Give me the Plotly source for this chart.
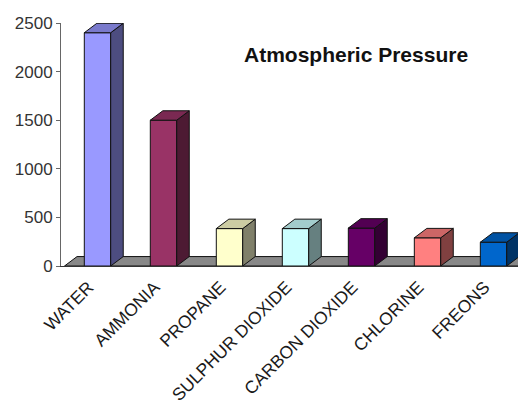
import plotly.graph_objects as go

categories = ["WATER", "AMMONIA", "PROPANE", "SULPHUR DIOXIDE",
              "CARBON DIOXIDE", "CHLORINE", "FREONS"]
pressure = [2400, 1500, 385, 385, 390, 290, 245]

front_colors = ["#9999FF", "#993366", "#FFFFCC", "#CCFFFF", "#660066", "#FF8080", "#0066CC"]
side_colors = ["#4D4D80", "#4D1A33", "#80806A", "#668080", "#330033", "#804040", "#003366"]
top_colors = ["#7A7ACC", "#7A2952", "#CCCCA3", "#A3CCCC", "#520052", "#CC6666", "#0052A3"]

W = 0.4      # bar width in category units
DX = 0.19    # depth offset (category units)
DY = 97      # depth offset (value units)
OUTLINE = "#111111"

fig = go.Figure()

def poly(xs, ys, fill):
    fig.add_trace(go.Scatter(
        x=xs + [xs[0]], y=ys + [ys[0]], mode="lines", fill="toself",
        fillcolor=fill, line=dict(color=OUTLINE, width=1),
        hoverinfo="skip", showlegend=False))

# floor
n = len(categories)
x0, x1 = -0.5, n - 0.5 + 0.1
poly([x0, x1, x1 + DX, x0 + DX], [0, 0, DY, DY], "#888888")

for i, v in enumerate(pressure):
    l, r = i - W / 2, i + W / 2
    poly([l, r, r, l], [0, 0, v, v], front_colors[i])
    poly([r, r + DX, r + DX, r], [0, DY, v + DY, v], side_colors[i])
    poly([l, r, r + DX, l + DX], [v, v, v + DY, v + DY], top_colors[i])

font = "Arial, Liberation Sans, sans-serif"

# page body has an 8px default margin, so the figure is 8px smaller
fig.update_layout(
    width=518, height=393,
    margin=dict(l=53, r=0, t=15, b=135, autoexpand=False),
    paper_bgcolor="white", plot_bgcolor="white",
    xaxis=dict(range=[-0.553, 6.492], tickvals=list(range(n)), ticktext=categories,
               tickangle=-45, showgrid=False, zeroline=False, showline=True,
               linecolor="#333333", linewidth=1, ticks="", automargin=False,
               ticklabelshift=-9, ticklabelstandoff=3,
               tickfont=dict(family=font, size=17.5, color="#1a1a1a")),
    yaxis=dict(range=[0, 2500], tickvals=[0, 500, 1000, 1500, 2000, 2500],
               showgrid=False, zeroline=False, showline=True, automargin=False,
               linecolor="#666666", linewidth=1, ticks="outside", ticklen=4,
               tickcolor="#666666",
               tickfont=dict(family=font, size=17, color="#333333")),
    annotations=[dict(text="<b>Atmospheric Pressure</b>", xref="paper", yref="paper",
                      x=0.634, y=0.872, xanchor="center", yanchor="middle",
                      showarrow=False, font=dict(family=font, size=21, color="#111111"))],
)

fig.write_html("out.html")
